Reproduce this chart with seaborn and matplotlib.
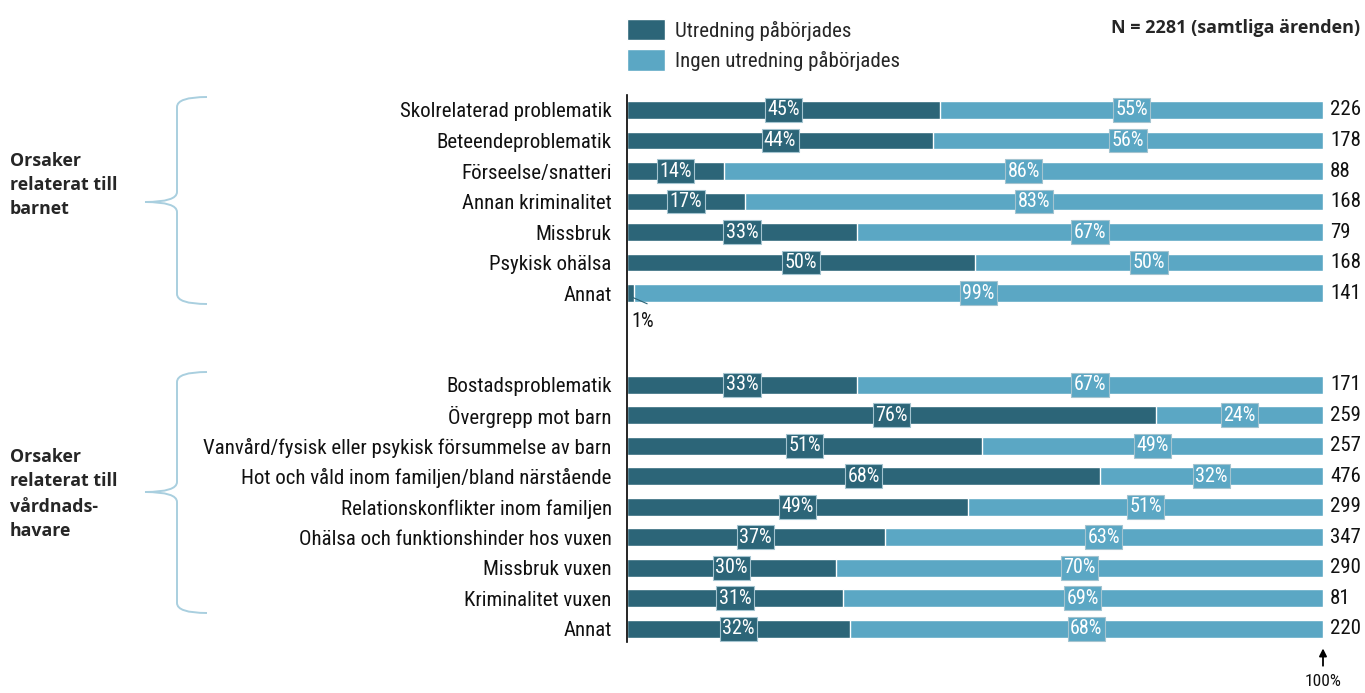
import matplotlib
matplotlib.use('Agg')
import matplotlib.pyplot as plt
import seaborn as sns
import pandas as pd
from matplotlib import font_manager
from matplotlib.path import Path
from matplotlib.patches import PathPatch, Patch

# Data
child_labels = ['Skolrelaterad problematik', 'Beteendeproblematik', 'Förseelse/snatteri',
                'Annan kriminalitet', 'Missbruk', 'Psykisk ohälsa', 'Annat']
child_utr = [45, 44, 14, 17, 33, 50, 1]
child_ingen = [55, 56, 86, 83, 67, 50, 99]
child_n = [226, 178, 88, 168, 79, 168, 141]

parent_labels = ['Bostadsproblematik', 'Övergrepp mot barn',
                 'Vanvård/fysisk eller psykisk försummelse av barn',
                 'Hot och våld inom familjen/bland närstående',
                 'Relationskonflikter inom familjen', 'Ohälsa och funktionshinder hos vuxen',
                 'Missbruk vuxen', 'Kriminalitet vuxen', 'Annat']
parent_utr = [33, 76, 51, 68, 49, 37, 30, 31, 32]
parent_ingen = [67, 24, 49, 32, 51, 63, 70, 69, 68]
parent_n = [171, 259, 257, 476, 299, 347, 290, 81, 220]

series_names = ['Utredning påbörjades', 'Ingen utredning påbörjades']
group_names = ['Orsaker\nrelaterat till\nbarnet', 'Orsaker\nrelaterat till\nvårdnads-\nhavare']
total_note = 'N = 2281 (samtliga ärenden)'

DARK = '#2c6578'
LIGHT = '#5ba7c4'
BRACE = '#a9cfdf'

sns.set_style('white')
available = {f.name for f in font_manager.fontManager.ttflist}
narrow = next((f for f in ['Roboto Condensed', 'Liberation Sans Narrow', 'DejaVu Sans Condensed']
               if f in available), 'Liberation Sans')
plt.rcParams['font.family'] = [narrow, 'DejaVu Sans']
BOLD_FONT = ['Open Sans', 'DejaVu Sans']

# rows 0-6 child group, gap, 9-17 parent group
pos = list(range(len(child_labels))) + [i + 9 for i in range(len(parent_labels))]
df = pd.DataFrame({
    'pos': pos,
    'label': child_labels + parent_labels,
    'utr': child_utr + parent_utr,
    'ingen': child_ingen + parent_ingen,
    'n': child_n + parent_n,
})
df['total'] = df['utr'] + df['ingen']

W, H = 1365, 693
fig = plt.figure(figsize=(W / 100, H / 100), dpi=100)
ax = fig.add_axes([627 / W, 1 - 642 / H, 696 / W, (642 - 95) / H])

sns.barplot(data=df, x='total', y='pos', orient='h', native_scale=True,
            color=LIGHT, width=0.58, saturation=1, ax=ax)
sns.barplot(data=df, x='utr', y='pos', orient='h', native_scale=True,
            color=DARK, width=0.58, saturation=1, ax=ax)

ax.set_xlim(0, 100)
ax.set_ylim(17.43, -0.49)
ax.set_yticks(df['pos'])
ax.set_yticklabels(df['label'], fontsize=15, color='#111111')
ax.set_xticks([])
ax.set_xlabel('')
ax.set_ylabel('')
ax.tick_params(axis='y', length=0, pad=11)
for s in ['top', 'right', 'bottom']:
    ax.spines[s].set_visible(False)
ax.spines['left'].set_color('black')
ax.spines['left'].set_linewidth(1.2)

box_kw = dict(boxstyle='square,pad=0.12', edgecolor='#a4c4d0', linewidth=0.8)
for _, r in df.iterrows():
    y = r['pos']
    if r['utr'] >= 5:
        ax.text(r['utr'] / 2, y, f"{r['utr']}%", ha='center', va='center', color='white',
                fontsize=14.5, bbox=dict(facecolor=DARK, **box_kw))
    else:
        ax.text(0.7, y + 0.93, f"{r['utr']}%", ha='left', va='center', fontsize=14.5,
                color='#111111', clip_on=False)
        ax.plot([0.4, 2.9], [y + 0.1, y + 0.35], color=DARK, lw=0.8, clip_on=False)
    ax.text(r['utr'] + r['ingen'] / 2, y, f"{r['ingen']}%", ha='center', va='center',
            color='white', fontsize=14.5, bbox=dict(facecolor=LIGHT, **box_kw))
    ax.text(101, y, f"{r['n']}", ha='left', va='center', fontsize=15, color='#111111')

# 100% arrow
ax.annotate('', xy=(100, 17.55), xytext=(100, 18.3), annotation_clip=False,
            arrowprops=dict(arrowstyle='-|>', color='black', lw=1.3, mutation_scale=11))
ax.text(100, 18.74, '100%', ha='center', va='center', fontsize=12.5, color='#111111',
        clip_on=False)

# legend
handles = [Patch(facecolor=DARK), Patch(facecolor=LIGHT)]
fig.legend(handles, series_names, loc='upper left', bbox_to_anchor=(627 / W, 1 - 19 / H),
           frameon=False, fontsize=15, handlelength=1.8, handleheight=1.2,
           labelspacing=0.42, handletextpad=0.5, borderaxespad=0, borderpad=0)
fig.text(1360 / W, 1 - 28 / H, total_note, ha='right', va='center', fontsize=13,
         fontweight='bold', family=BOLD_FONT)

# overlay in pixel coordinates for braces and group titles
ov = fig.add_axes([0, 0, 1, 1], zorder=-1)
ov.set_xlim(0, W)
ov.set_ylim(H, 0)
ov.axis('off')


def brace(top, tip, bottom, x_stem=177, x_tip=145, x_end=207):
    r = 10
    verts = [(x_end, top), (x_stem, top), (x_stem, top + r),
             (x_stem, tip - r),
             (x_stem, tip), (x_tip, tip),
             (x_stem, tip), (x_stem, tip + r),
             (x_stem, bottom - r),
             (x_stem, bottom), (x_end, bottom)]
    codes = [Path.MOVETO, Path.CURVE3, Path.CURVE3,
             Path.LINETO,
             Path.CURVE3, Path.CURVE3,
             Path.CURVE3, Path.CURVE3,
             Path.LINETO,
             Path.CURVE3, Path.CURVE3]
    ov.add_patch(PathPatch(Path(verts, codes), facecolor='none', edgecolor=BRACE, lw=1.4))


brace(97, 202, 304)
brace(372, 492, 613)

ov.text(10, 185, group_names[0], ha='left', va='center', fontsize=12.8, fontweight='bold',
        family=BOLD_FONT, linespacing=1.4)
ov.text(10, 494, group_names[1], ha='left', va='center', fontsize=12.8, fontweight='bold',
        family=BOLD_FONT, linespacing=1.5)

fig.savefig('out.png', dpi=100)
